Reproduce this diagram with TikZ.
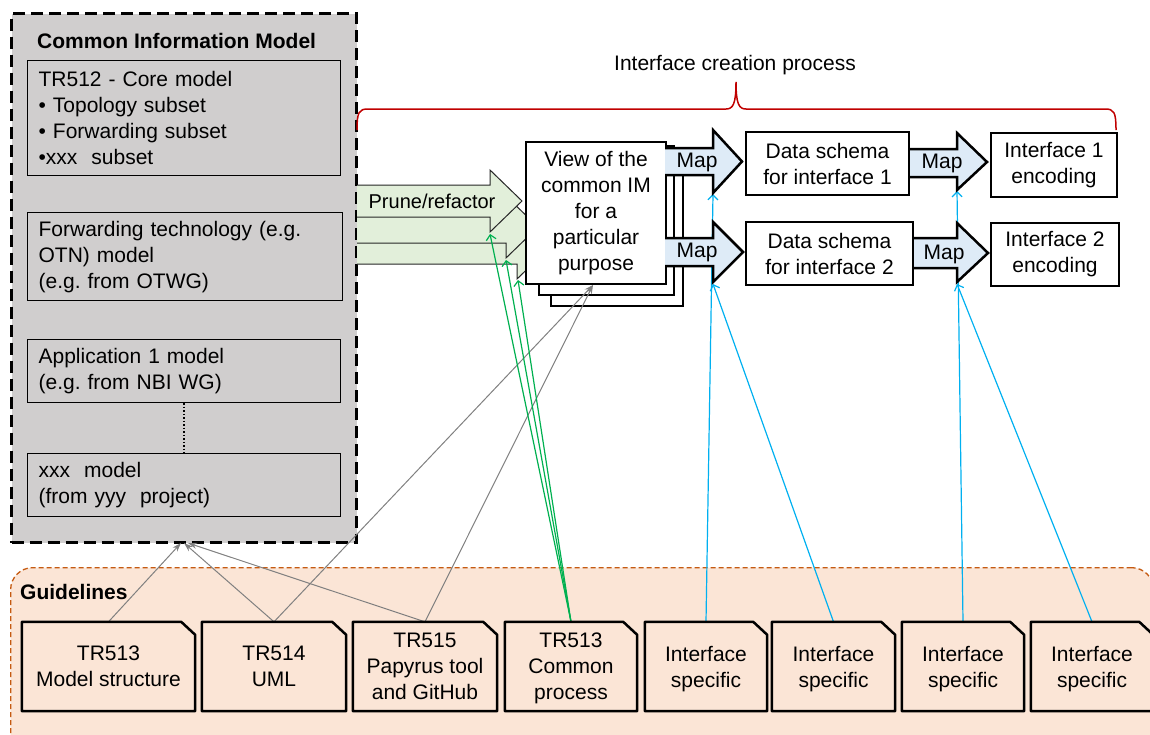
\documentclass[tikz,border=0pt]{standalone}
\usepackage{fontspec}
\setmainfont{Liberation Sans}
\usetikzlibrary{arrows.meta}
\frenchspacing
\definecolor{cimgray}{HTML}{D0CECE}
\definecolor{prunegreen}{HTML}{E2EFDA}
\definecolor{mapblue}{HTML}{DEEBF7}
\definecolor{guidefill}{HTML}{FBE5D6}
\definecolor{guideline}{HTML}{C55A11}
\definecolor{bracered}{HTML}{C00000}
\definecolor{linkgray}{HTML}{808080}
\definecolor{linkgreen}{HTML}{00B050}
\definecolor{linkblue}{HTML}{00B0F0}
\newcommand{\docoutline}[1]{\draw[docline] (#1.south west) -- (#1.north west) -- ([xshift=-14pt]#1.north east) -- ([yshift=-13pt]#1.north east) -- (#1.south east) -- cycle;}
\begin{document}
\begin{tikzpicture}[x=1pt,y=-1pt,
  every node/.style={font=\fontsize{21}{26}\selectfont, inner sep=0pt},
  cimbox/.style={draw=black, line width=1.2pt, anchor=north west, align=left, inner xsep=11pt, inner ysep=0pt},
  plainbox/.style={draw=black, line width=2pt, fill=white, align=center, anchor=north west},
  prunearrow/.style={fill=prunegreen, draw=black!85, line width=1pt, line join=miter},
  maparrow/.style={fill=mapblue, draw=black, line width=2.5pt, line join=miter},
  doc/.style={align=center, font=\fontsize{21}{26}\selectfont, minimum height=89pt, text depth=0pt},
  docline/.style={draw=black, line width=2.5pt, line join=round},
  graylink/.style={draw=linkgray, line width=1pt, -{Stealth[length=9pt,width=6pt]}},
  greenlink/.style={draw=linkgreen, line width=1.2pt, -{Straight Barb[length=5pt,width=10pt]}},
  bluelink/.style={draw=linkblue, line width=1.2pt, -{Straight Barb[length=5pt,width=10pt]}},
]
\useasboundingbox (0,0) rectangle (1150,734);

% Guidelines background
\node[draw=guideline, dash pattern=on 5pt off 3pt, line width=1.3pt, fill=guidefill, rounded corners=22pt, anchor=north west, minimum width=1143pt, minimum height=190pt] (guides) at (10,567) {};
\node[font=\bfseries\fontsize{21}{26}\selectfont, anchor=west] (gtitle) at (20,592) {Guidelines};

% Documents (nodes)
\node[doc, minimum width=173pt] (d1) at (108.5,666.5) {TR513\\Model structure};
\node[doc, minimum width=144pt] (d2) at (274,666.5) {TR514\\UML};
\node[doc, minimum width=144pt] (d3) at (425,666.5) {TR515\\Papyrus tool\\and GitHub};
\node[doc, minimum width=132pt] (d4) at (571,666.5) {TR513\\Common\\process};
\node[doc, minimum width=122pt] (d5) at (706,666.5) {Interface\\specific};
\node[doc, minimum width=123pt] (d6) at (833.5,666.5) {Interface\\specific};
\node[doc, minimum width=122pt] (d7) at (963,666.5) {Interface\\specific};
\node[doc, minimum width=122pt] (d8) at (1092,666.5) {Interface\\specific};

% Common Information Model
\node[draw=black, dash pattern=on 12pt off 6pt, line width=3pt, fill=cimgray, anchor=north west, minimum width=345pt, minimum height=529pt] (cim) at (10,12) {};
\node[font=\bfseries\fontsize{21}{26}\selectfont, anchor=west] (cimtitle) at (37,41) {Common Information Model};
\node[cimbox, text width=291pt, minimum height=115pt] (tr512) at (27,60) {TR512 - Core model\\• Topology subset\\• Forwarding subset\\•xxx\ \ subset};
\node[cimbox, text width=293pt, minimum height=88pt] (fwd) at (27,212) {Forwarding technology (e.g.\\OTN) model\\(e.g. from OTWG)};
\node[cimbox, text width=291pt, minimum height=63pt] (app) at (27,339) {Application 1 model\\(e.g. from NBI WG)};
\node[cimbox, text width=291pt, minimum height=63pt] (xxx) at (27,453) {xxx\ \ model\\(from yyy\ \ project)};
\draw[dotted, line width=1.5pt] (app.south) -- (xxx.north);

% Prune/refactor arrows
\filldraw[prunearrow] (357,232) -- (517,232) -- (517,217) -- (549,248) -- (517,279) -- (517,264) -- (357,264);
\filldraw[prunearrow] (357,211) -- (506,211) -- (506,196) -- (538,227) -- (506,258) -- (506,243) -- (357,243);
\filldraw[prunearrow] (357,185) -- (490,185) -- (490,170) -- (522,201) -- (490,232) -- (490,217) -- (357,217);
\node (prune) at (432,201) {\fontsize{20}{26}\selectfont Prune/refactor};
\coordinate (n1) at (490,234);
\coordinate (n2) at (506,260);
\coordinate (n3) at (518,280);

% View boxes
\node[plainbox, minimum width=132pt, minimum height=150pt] (view3) at (550,155) {};
\node[plainbox, minimum width=135pt, minimum height=149pt] (view2) at (538,145) {};
\node[plainbox, minimum width=140pt, minimum height=142pt] (view) at (525,141) {View of the\\common IM\\for a\\particular\\purpose};
\coordinate (viewin) at (593,285);

% Interface creation process brace
\node (icp) at (735,65) {Interface creation process};
\draw[bracered, line width=1.5pt] (357,130) .. controls (357,112) and (359,109) .. (368,109) -- (726,109) .. controls (733,109) and (736,104) .. (736,82) .. controls (736,104) and (739,109) .. (746,109) -- (1105,109) .. controls (1114,109) and (1116,112) .. (1116,130);

% Gray links
\coordinate (cimA) at (181,543);
\coordinate (cimB) at (184,543);
\coordinate (cimC) at (188,543);
\draw[graylink] (d1.north) -- (cimA);
\draw[graylink] (d2.north) -- (cimB);
\draw[graylink] (d3.north) -- (cimC);
\draw[graylink] (d2.north) -- (viewin);
\draw[graylink] (d3.north) -- (viewin);

% Green links
\draw[greenlink] (d4.north) -- (n1);
\draw[greenlink] (d4.north) -- (n2);
\draw[greenlink] (d4.north) -- (n3);

% Map input points
\coordinate (m1in) at (713,194);
\coordinate (m2in) at (713,284);
\coordinate (m3in) at (957,191);
\coordinate (m4in) at (957,284);

\draw[bluelink] (d5.north) -- (m1in);
\draw[bluelink] (d7.north) -- (m3in);

% Map arrows
\filldraw[maparrow] (665,148) -- (713,148) -- (713,130) -- (742,161.5) -- (713,193) -- (713,175) -- (665,175);
\filldraw[maparrow] (665,238) -- (713,238) -- (713,222) -- (743,252) -- (713,282) -- (713,266) -- (665,266);
\filldraw[maparrow] (908,149) -- (957,149) -- (957,133) -- (987,162) -- (957,190) -- (957,177) -- (908,177);
\filldraw[maparrow] (912,238) -- (957,238) -- (957,223) -- (988,253) -- (957,282) -- (957,268) -- (912,268);
\node (map1) at (697,162) {Map};
\node (map2) at (697,252) {Map};
\node (map3) at (942,163) {Map};
\node (map4) at (944,254) {Map};

\draw[bluelink] (d6.north) -- (m2in);
\draw[bluelink] (d8.north) -- (m4in);

% Data schema and encoding boxes
\node[plainbox, minimum width=163pt, minimum height=63pt] (ds1) at (745,131) {Data schema\\for interface 1};
\node[plainbox, minimum width=167pt, minimum height=63pt] (ds2) at (745,221) {Data schema\\for interface 2};
\node[plainbox, minimum width=126pt, minimum height=64pt] (ie1) at (990,132) {Interface 1\\encoding};
\node[plainbox, minimum width=128pt, minimum height=63pt] (ie2) at (990,222) {Interface 2\\encoding};

% Document outlines
\docoutline{d1}
\docoutline{d2}
\docoutline{d3}
\docoutline{d4}
\docoutline{d5}
\docoutline{d6}
\docoutline{d7}
\docoutline{d8}
\end{tikzpicture}
\end{document}
